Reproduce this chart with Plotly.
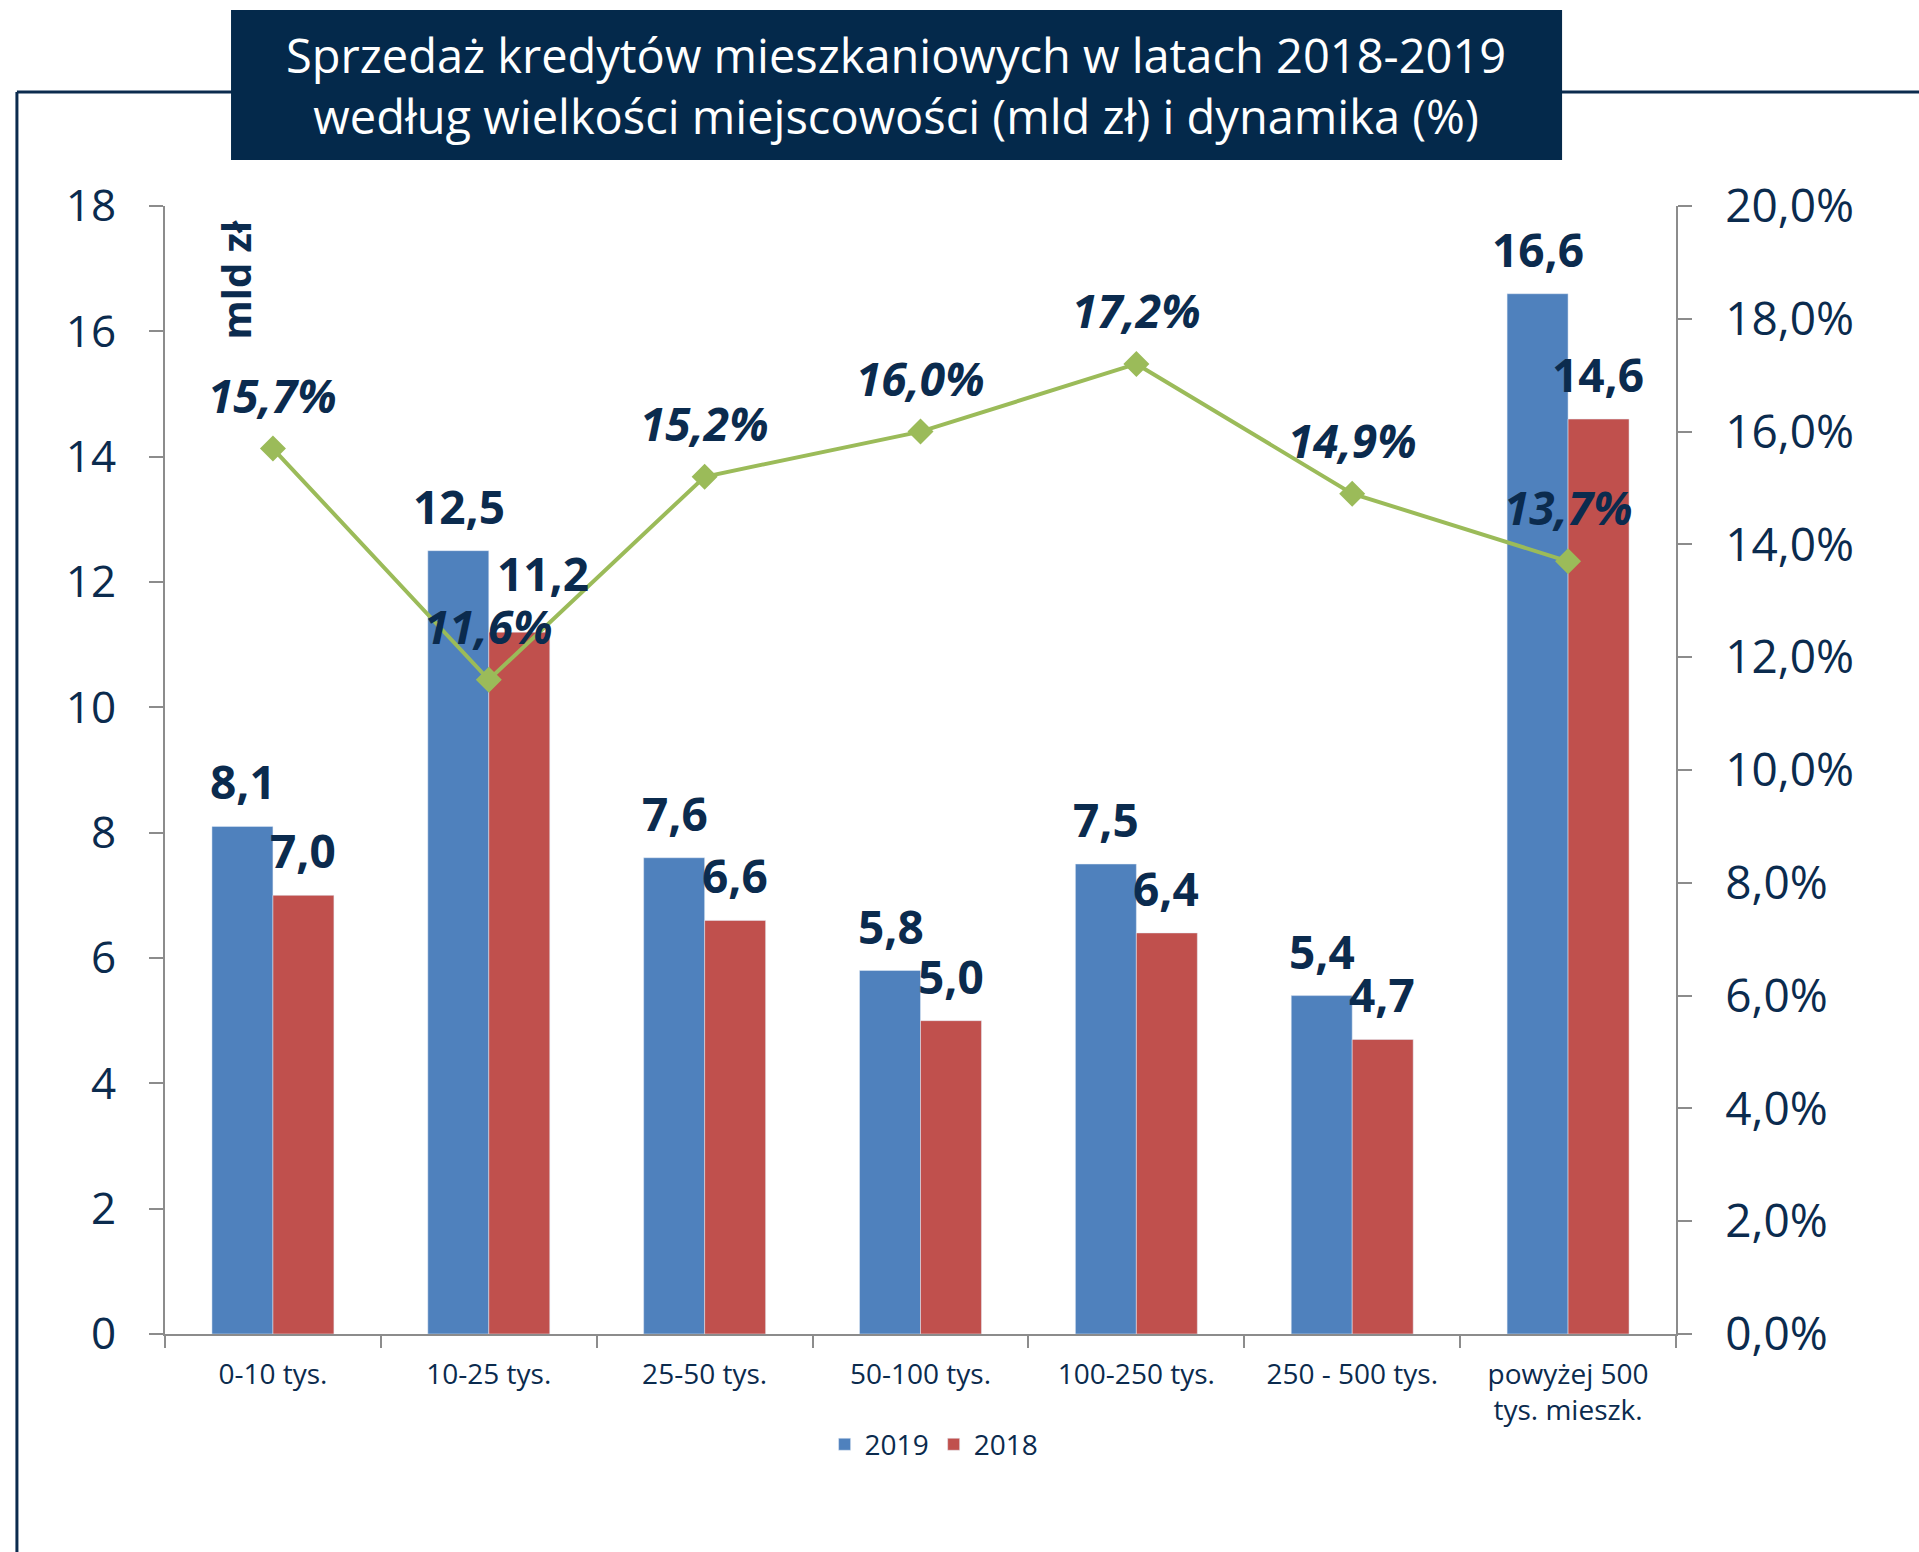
import plotly.graph_objects as go

# dane
categories = ["0-10 tys.", "10-25 tys.", "25-50 tys.", "50-100 tys.",
              "100-250 tys.", "250 - 500 tys.", "powyżej 500<br>tys. mieszk."]
sales_2019 = [8.1, 12.5, 7.6, 5.8, 7.5, 5.4, 16.6]
sales_2018 = [7.0, 11.2, 6.6, 5.0, 6.4, 4.7, 14.6]
dynamics = [15.7, 11.6, 15.2, 16.0, 17.2, 14.9, 13.7]

NAVY = "#0B2B4E"
BLUE = "#4F81BD"
RED = "#C0504D"
GREEN = "#9BBB59"
AXIS = "#8C8C8C"
FONT = "Open Sans"

# etykieta 11,2 jest w oryginale lekko przesunięta
nudge_2018 = {"10-25 tys.": (24, 14)}


def pl(v, suffix=""):
    return f"{v:.1f}".replace(".", ",") + suffix


fig = go.Figure()
fig.add_trace(go.Bar(x=categories, y=sales_2019, name="2019",
                     marker_color=BLUE, yaxis="y"))
fig.add_trace(go.Bar(x=categories, y=sales_2018, name="2018",
                     marker_color=RED, yaxis="y"))
fig.add_trace(go.Scatter(x=categories, y=dynamics, yaxis="y2",
                         mode="lines+markers", showlegend=False,
                         line=dict(color=GREEN, width=4),
                         marker=dict(symbol="diamond", size=20, color=GREEN)))

annotations = []
for cat, v in zip(categories, sales_2019):
    annotations.append(dict(x=cat, y=v, xref="x", yref="y", text="<b>" + pl(v) + "</b>",
                            showarrow=False, yanchor="bottom", yshift=12, xshift=-30,
                            font=dict(size=46, color=NAVY, family=FONT)))
for cat, v in zip(categories, sales_2018):
    dx, dy = nudge_2018.get(cat, (0, 0))
    annotations.append(dict(x=cat, y=v, xref="x", yref="y", text="<b>" + pl(v) + "</b>",
                            showarrow=False, yanchor="bottom", yshift=12 + dy, xshift=30 + dx,
                            font=dict(size=46, color=NAVY, family=FONT)))
for cat, v in zip(categories, dynamics):
    annotations.append(dict(x=cat, y=v, xref="x", yref="y2", text="<b><i>" + pl(v, "%") + "</i></b>",
                            showarrow=False, yanchor="middle", yshift=54,
                            font=dict(size=46, color=NAVY, family=FONT)))

annotations.append(dict(x=0.0465, y=0.935, xref="paper", yref="paper", text="<b>mld zł</b>",
                        textangle=-90, showarrow=False, xanchor="center", yanchor="middle",
                        font=dict(size=40, color=NAVY, family=FONT)))
annotations.append(dict(x=0.484, y=1.107, xref="paper", yref="paper",
                        text="Sprzedaż kredytów mieszkaniowych w latach 2018-2019<br>"
                             "według wielkości miejscowości (mld zł) i dynamika (%)",
                        showarrow=False, align="center", xanchor="center", yanchor="middle",
                        font=dict(size=47, color="white", family=FONT)))

shapes = [
    dict(type="line", xref="paper", yref="paper", x0=-0.098, x1=1.17, y0=1.101, y1=1.101,
         line=dict(color=NAVY, width=3)),
    dict(type="line", xref="paper", yref="paper", x0=-0.098, x1=-0.098, y0=1.101, y1=-0.2,
         line=dict(color=NAVY, width=3)),
    dict(type="rect", xref="paper", yref="paper", x0=0.0437, x1=0.9246, y0=1.0408, y1=1.1738,
         fillcolor="#04294B", line=dict(width=0)),
]

fig.update_layout(
    width=1919, height=1552,
    margin=dict(l=165, r=243, t=206, b=218),
    paper_bgcolor="white", plot_bgcolor="white",
    barmode="group", bargap=0.435, bargroupgap=0,
    separators=", ",
    font=dict(family=FONT, color=NAVY),
    showlegend=True,
    legend=dict(orientation="h", x=0.509, xanchor="center", y=-0.098, yanchor="middle",
                font=dict(size=28, color=NAVY, family=FONT)),
    annotations=annotations,
    shapes=shapes,
    xaxis=dict(showline=True, linecolor=AXIS, linewidth=2, ticks="outside",
               tickson="boundaries", ticklen=12, tickcolor=AXIS, tickwidth=2,
               ticklabelstandoff=14,
               tickfont=dict(size=28, color=NAVY, family=FONT), showgrid=False),
    yaxis=dict(range=[0, 18], dtick=2, showline=True, linecolor=AXIS, linewidth=2,
               ticks="outside", ticklen=14, tickcolor=AXIS, tickwidth=2,
               ticklabelstandoff=24,
               tickfont=dict(size=44, color=NAVY, family=FONT), showgrid=False,
               zeroline=False),
    yaxis2=dict(range=[0, 20], dtick=2, overlaying="y", side="right",
                showline=True, linecolor=AXIS, linewidth=2, ticks="outside",
                ticklen=14, tickcolor=AXIS, tickwidth=2, tickformat=".1f", ticksuffix="%",
                ticklabelstandoff=24,
                tickfont=dict(size=46, color=NAVY, family=FONT), showgrid=False,
                zeroline=False),
)

fig.write_html("out.html", config={"displayModeBar": False},
               post_script="document.body.style.margin='0';")
